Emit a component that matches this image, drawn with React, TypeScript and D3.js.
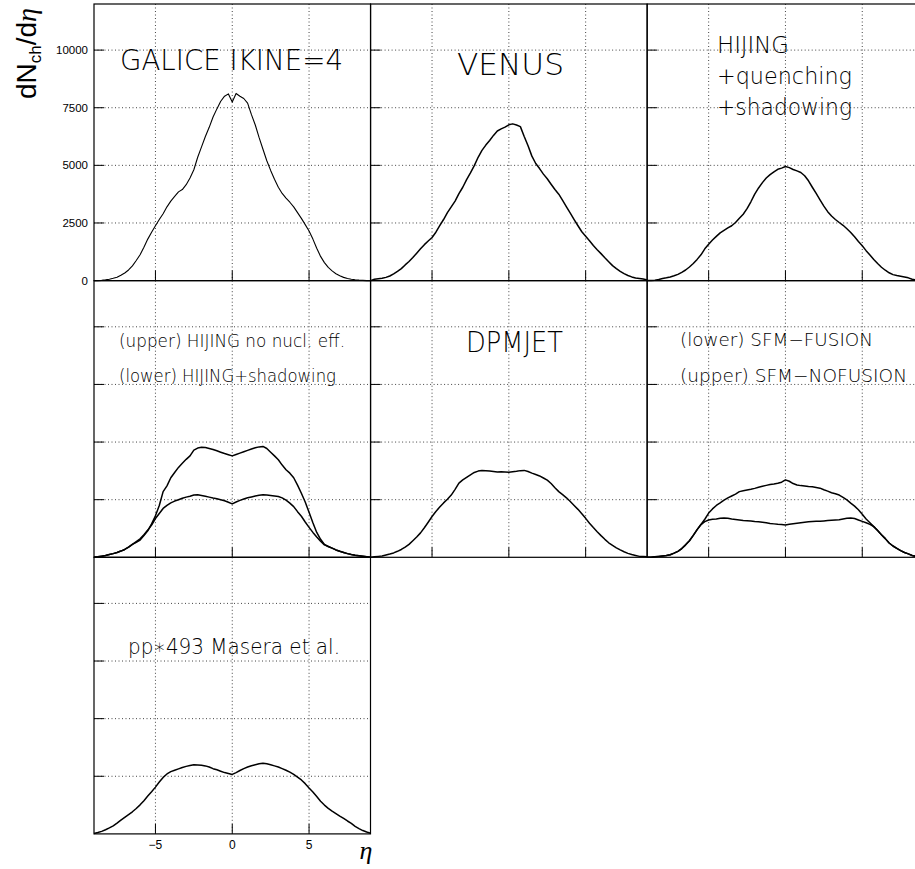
import React from "react";
import * as d3 from "d3";

// eta bin centres, -9 .. 9 in steps of 0.25 (73 bins)
const ETA = d3.range(-9, 9.0001, 0.25);

const X_GRID = [-5, 0, 5];
const Y_GRID = [2500, 5000, 7500, 10000];
const Y_TICK_LABELS = ["0", "2500", "5000", "7500", "10000"];
const X_TICK_LABELS = ["\u22125", "0", "5"];

// dN/deta, one row per unit of eta
const GALICE = [
  0, 0, 10, 30,
  60, 100, 145, 230,
  330, 460, 640, 870,
  1120, 1450, 1800, 2100,
  2380, 2650, 2900, 3200,
  3450, 3650, 3850, 3950,
  4160, 4450, 4810, 5350,
  5800, 6250, 6650, 7100,
  7450, 7780, 8000, 8100,
  7750, 8120, 8000, 7900,
  7700, 7200, 6750, 6200,
  5700, 5200, 4780, 4400,
  4050, 3780, 3580, 3400,
  3200, 2950, 2700, 2430,
  2150, 1800, 1400, 1050,
  780, 570, 420, 300,
  210, 140, 90, 60,
  35, 20, 10, 0,
  0,
];

const VENUS = [
  0, 60, 80, 100,
  140, 200, 290, 400,
  520, 680, 830, 1000,
  1190, 1380, 1560, 1720,
  1870, 2100, 2380, 2650,
  2950, 3200, 3450, 3770,
  4050, 4380, 4670, 4990,
  5350, 5650, 5880, 6080,
  6300, 6490, 6580, 6660,
  6760, 6800, 6750, 6680,
  6250, 5850, 5400, 5080,
  4860, 4620, 4420, 4180,
  3950, 3750, 3480, 3200,
  2930, 2650, 2380, 2120,
  1920, 1730, 1520, 1340,
  1170, 990, 820, 650,
  520, 400, 300, 220,
  160, 110, 90, 70,
  30,
];

const HIJING_QS = [
  0, 0, 20, 50,
  90, 120, 160, 210,
  270, 360, 460, 590,
  740, 920, 1120, 1380,
  1580, 1760, 1920, 2070,
  2180, 2290, 2380, 2520,
  2700, 2880, 3120, 3420,
  3750, 4020, 4250, 4450,
  4600, 4720, 4830, 4880,
  4950, 4900, 4820, 4760,
  4690, 4550, 4330, 4050,
  3780, 3500, 3230, 2990,
  2800, 2650, 2520, 2400,
  2250, 2090, 1900, 1700,
  1510, 1300, 1110, 920,
  740, 580, 450, 340,
  260, 220, 190, 160,
  120, 60, 30, 10,
  0,
];

const HIJING_NONUCL = [
  0, 20, 50, 80,
  120, 160, 210, 270,
  340, 440, 560, 650,
  750, 950, 1150, 1450,
  1800, 2250, 2850, 3100,
  3450, 3680, 3900, 4080,
  4250, 4400, 4650, 4740,
  4770, 4760, 4720, 4680,
  4620, 4560, 4500, 4450,
  4400, 4460, 4520, 4580,
  4640, 4700, 4750, 4790,
  4810, 4720, 4560, 4400,
  4230, 4000, 3800, 3650,
  3450, 3130, 2780, 2400,
  1950, 1500, 1080, 780,
  560, 470, 400, 320,
  260, 210, 160, 120,
  90, 70, 50, 25,
  0,
];

const HIJING_SHADOW = [
  0, 20, 50, 80,
  120, 160, 210, 270,
  340, 440, 560, 680,
  800, 980, 1180, 1400,
  1680, 1900, 2120, 2250,
  2360, 2440, 2500, 2560,
  2610, 2650, 2700, 2710,
  2680, 2650, 2610, 2570,
  2540, 2500, 2450, 2390,
  2320, 2400, 2470, 2530,
  2580, 2620, 2660, 2690,
  2710, 2700, 2680, 2660,
  2640, 2580, 2480, 2350,
  2200, 1980, 1780, 1530,
  1300, 1080, 880, 700,
  540, 470, 400, 320,
  260, 210, 160, 120,
  90, 70, 50, 25,
  0,
];

const DPMJET = [
  0, 20, 40, 60,
  100, 140, 190, 260,
  340, 440, 560, 720,
  880, 1060, 1280, 1520,
  1770, 1990, 2180, 2360,
  2520, 2700, 2950, 3220,
  3360, 3470, 3580, 3680,
  3740, 3770, 3760, 3740,
  3720, 3700, 3710, 3700,
  3690, 3710, 3730, 3760,
  3770, 3720, 3650, 3590,
  3530, 3440, 3350, 3200,
  3020, 2850, 2720, 2580,
  2420, 2250, 2080, 1890,
  1690, 1480, 1290, 1110,
  940, 780, 630, 520,
  410, 320, 240, 170,
  120, 80, 40, 30,
  20,
];

const SFM_NOFUSION = [
  0, 0, 20, 40,
  60, 80, 110, 180,
  260, 380, 540, 720,
  950, 1200, 1420, 1650,
  1920, 2100, 2250, 2360,
  2480, 2580, 2660, 2740,
  2850, 2890, 2920, 2950,
  2990, 3040, 3080, 3120,
  3160, 3180, 3210, 3260,
  3360, 3300, 3200, 3140,
  3110, 3090, 3070, 3060,
  3030, 3000, 2930, 2870,
  2800, 2760, 2700, 2600,
  2490, 2350, 2220, 2060,
  1870, 1660, 1500, 1330,
  1160, 980, 810, 620,
  490, 390, 290, 210,
  150, 80, 40, 20,
  0,
];

const SFM_FUSION = [
  0, 0, 20, 40,
  60, 80, 110, 180,
  260, 380, 540, 720,
  950, 1200, 1420, 1550,
  1620, 1650, 1660, 1690,
  1700, 1690, 1660, 1640,
  1620, 1600, 1590, 1570,
  1550, 1540, 1520, 1500,
  1470, 1450, 1430, 1420,
  1400, 1430, 1460, 1480,
  1500, 1520, 1540, 1550,
  1560, 1560, 1580, 1600,
  1610, 1620, 1630, 1660,
  1690, 1700, 1680, 1620,
  1560, 1500, 1430, 1330,
  1160, 980, 810, 620,
  490, 390, 290, 210,
  150, 80, 40, 20,
  0,
];

const PP_MASERA = [
  20, 60, 110, 180,
  260, 350, 470, 600,
  720, 840, 960, 1100,
  1260, 1440, 1640, 1830,
  2030, 2250, 2450, 2600,
  2700, 2760, 2820, 2880,
  2930, 2970, 3000, 2990,
  2980, 2950, 2900, 2830,
  2780, 2720, 2660, 2620,
  2580, 2660, 2750, 2830,
  2900, 2960, 3000, 3040,
  3070, 3040, 3000, 2950,
  2900, 2830, 2760, 2680,
  2580, 2460, 2340, 2180,
  1990, 1820, 1620, 1420,
  1250, 1110, 990, 880,
  770, 670, 560, 460,
  330, 230, 145, 80,
  30,
];

// layout
const COL_X = [94, 370.6, 647.2];
const ROW_Y = [4, 280.7, 557.3];
const PW = 276.5;
const PH = 276.6;

const PANELS = [
  { row: 0, col: 0, series: [GALICE], sw: 1.1 },
  { row: 0, col: 1, series: [VENUS], sw: 1.5 },
  { row: 0, col: 2, series: [HIJING_QS], sw: 1.5 },
  { row: 1, col: 0, series: [HIJING_NONUCL, HIJING_SHADOW], sw: 1.5 },
  { row: 1, col: 1, series: [DPMJET], sw: 1.5 },
  { row: 1, col: 2, series: [SFM_NOFUSION, SFM_FUSION], sw: 1.5 },
  { row: 2, col: 0, series: [PP_MASERA], sw: 1.5 },
];

const LABELS = [
  { text: "GALICE IKINE=4", x: 120, y: 70, size: 29, w: 223 },
  { text: "VENUS", x: 457, y: 75, size: 30, w: 107 },
  { text: "HIJING", x: 717, y: 53, size: 23, w: 72 },
  { text: "+quenching", x: 717, y: 84, size: 23, w: 135 },
  { text: "+shadowing", x: 717, y: 115, size: 23, w: 135 },
  { text: "(upper) HIJING no nucl. eff.", x: 119, y: 347, size: 18.5, w: 226 },
  { text: "(lower) HIJING+shadowing", x: 119, y: 382, size: 18.5, w: 217 },
  { text: "DPMJET", x: 466, y: 352, size: 28, w: 97 },
  { text: "(lower) SFM\u2212FUSION", x: 680, y: 346, size: 18.5, w: 193 },
  { text: "(upper) SFM\u2212NOFUSION", x: 680, y: 382, size: 18.5, w: 227 },
  { text: "pp\u2217493 Masera et al.", x: 128, y: 654, size: 21, w: 212 },
];

const LABEL_FONT = "'DejaVu Sans', 'Noto Sans', sans-serif";
const TICK_FONT = "'Liberation Sans', Arial, sans-serif";

const x = d3.scaleLinear().domain([-9, 9]).range([0, PW]);
const y = d3.scaleLinear().domain([0, 12000]).range([PH, 0]);

function Panel({ row, col, series, sw }: { row: number; col: number; series: number[][]; sw: number }) {
  const line = d3
    .line<number>()
    .x((_, i) => x(ETA[i]))
    .y((d) => y(d));

  return (
    <g transform={`translate(${COL_X[col]},${ROW_Y[row]})`}>
      {/* dotted grid */}
      {X_GRID.map((v) => (
        <line key={"gx" + v} x1={x(v)} x2={x(v)} y1={0} y2={PH}
          stroke="#444" strokeWidth={1} strokeDasharray="1,2.5" />
      ))}
      {Y_GRID.map((v) => (
        <line key={"gy" + v} x1={0} x2={PW} y1={y(v)} y2={y(v)}
          stroke="#444" strokeWidth={1} strokeDasharray="1,2.5" />
      ))}
      {/* inward ticks */}
      {Y_GRID.map((v) => (
        <line key={"ty" + v} x1={0} x2={10} y1={y(v)} y2={y(v)} stroke="#000" strokeWidth={1} />
      ))}
      {X_GRID.map((v) => (
        <line key={"tx" + v} x1={x(v)} x2={x(v)} y1={PH} y2={PH - 10} stroke="#000" strokeWidth={1} />
      ))}
      {series.map((s, i) => (
        <path key={i} d={line(s) ?? ""} fill="none" stroke="#000" strokeWidth={sw} strokeLinejoin="round" />
      ))}
      <rect x={0} y={0} width={PW} height={PH} fill="none" stroke="#000" strokeWidth={1.2} />
    </g>
  );
}

export default function App() {
  return (
    <svg width={915} height={869} style={{ position: "absolute", left: 0, top: 0, background: "#fff" }}>
      <rect width={915} height={869} fill="#fff" />
      {PANELS.map((p, i) => (
        <Panel key={i} {...p} />
      ))}

      {/* y tick labels on the first panel */}
      {[0, ...Y_GRID].map((v, i) => (
        <text key={"yl" + v} x={88} y={ROW_Y[0] + y(v)} dy="0.35em" textAnchor="end"
          fontFamily={TICK_FONT} fontSize={11.5}>
          {Y_TICK_LABELS[i]}
        </text>
      ))}

      {/* x tick labels on the bottom panel */}
      {X_GRID.map((v, i) => (
        <text key={"xl" + v} x={COL_X[0] + x(v)} y={849} textAnchor="middle"
          fontFamily={TICK_FONT} fontSize={12}>
          {X_TICK_LABELS[i]}
        </text>
      ))}

      {/* eta axis title */}
      <text x={366} y={859} textAnchor="middle" fontFamily="'Liberation Serif', 'DejaVu Serif', serif"
        fontStyle="italic" fontSize={26}>
        η
      </text>

      {/* y axis title */}
      <text transform="translate(36,99) rotate(-90)" fontFamily={TICK_FONT} fontSize={28}>
        dN
        <tspan fontSize={17} dy={5}>ch</tspan>
        <tspan dy={-5}>/d</tspan>
        <tspan fontFamily="'Liberation Serif', serif" fontStyle="italic">η</tspan>
      </text>

      {/* panel captions */}
      {LABELS.map((l, i) => (
        <text key={"lab" + i} x={l.x} y={l.y} fontFamily={LABEL_FONT} fontWeight={200}
          fontSize={l.size} textLength={l.w} lengthAdjust="spacingAndGlyphs" fill="#000">
          {l.text}
        </text>
      ))}
    </svg>
  );
}
